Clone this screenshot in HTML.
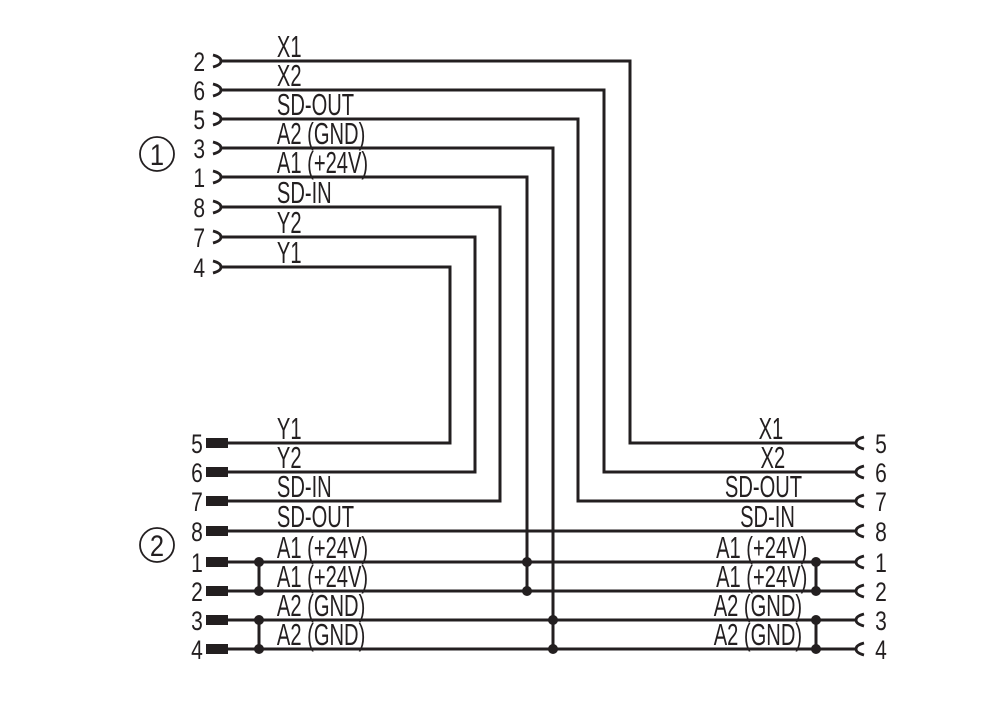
<!DOCTYPE html>
<html><head><meta charset="utf-8"><style>
html,body{margin:0;padding:0;background:#fff;}
svg{display:block;}
text{font-family:"Liberation Sans",sans-serif;fill:#231f20;}
</style></head><body>
<svg width="1000" height="701" viewBox="0 0 1000 701" xmlns="http://www.w3.org/2000/svg">
<g stroke="#231f20" stroke-width="3" fill="none">
<polyline points="220,61 630,61 630,443 857,443"/>
<polyline points="220,90 604,90 604,472 857,472"/>
<polyline points="220,119 578,119 578,501 857,501"/>
<polyline points="220,148 553,148 553,649"/>
<polyline points="220,177 527,177 527,591"/>
<polyline points="220,207 500,207 500,501 228,501"/>
<polyline points="220,237 475,237 475,472 228,472"/>
<polyline points="220,267 450,267 450,443 228,443"/>
<line x1="228" y1="531" x2="857" y2="531"/>
<line x1="228" y1="562" x2="857" y2="562"/>
<line x1="228" y1="591" x2="857" y2="591"/>
<line x1="228" y1="620" x2="857" y2="620"/>
<line x1="228" y1="649" x2="857" y2="649"/>
<line x1="259" y1="562" x2="259" y2="591"/>
<line x1="259" y1="620" x2="259" y2="649"/>
<line x1="816" y1="562" x2="816" y2="591"/>
<line x1="816" y1="620" x2="816" y2="649"/>
</g>
<g stroke="#231f20" stroke-width="2.8" fill="none">
<path d="M213,55 Q221,57 221,61 Q221,65 213,67"/>
<path d="M213,84 Q221,86 221,90 Q221,94 213,96"/>
<path d="M213,113 Q221,115 221,119 Q221,123 213,125"/>
<path d="M213,142 Q221,144 221,148 Q221,152 213,154"/>
<path d="M213,171 Q221,173 221,177 Q221,181 213,183"/>
<path d="M213,201 Q221,203 221,207 Q221,211 213,213"/>
<path d="M213,231 Q221,233 221,237 Q221,241 213,243"/>
<path d="M213,261 Q221,263 221,267 Q221,271 213,273"/>
<path d="M864,437 Q856,439 856,443 Q856,447 864,449"/>
<path d="M864,466 Q856,468 856,472 Q856,476 864,478"/>
<path d="M864,495 Q856,497 856,501 Q856,505 864,507"/>
<path d="M864,525 Q856,527 856,531 Q856,535 864,537"/>
<path d="M864,556 Q856,558 856,562 Q856,566 864,568"/>
<path d="M864,585 Q856,587 856,591 Q856,595 864,597"/>
<path d="M864,614 Q856,616 856,620 Q856,624 864,626"/>
<path d="M864,643 Q856,645 856,649 Q856,653 864,655"/>
<circle cx="157" cy="154" r="17" stroke-width="1.8"/>
<circle cx="157" cy="545" r="17" stroke-width="1.8"/>
</g>
<g fill="#231f20">
<rect x="206" y="438" width="22" height="10"/>
<rect x="206" y="467" width="22" height="10"/>
<rect x="206" y="496" width="22" height="10"/>
<rect x="206" y="526" width="22" height="10"/>
<rect x="206" y="557" width="22" height="10"/>
<rect x="206" y="586" width="22" height="10"/>
<rect x="206" y="615" width="22" height="10"/>
<rect x="206" y="644" width="22" height="10"/>
<circle cx="259" cy="562" r="5"/><circle cx="259" cy="591" r="5"/>
<circle cx="259" cy="620" r="5"/><circle cx="259" cy="649" r="5"/>
<circle cx="527" cy="562" r="5"/><circle cx="527" cy="591" r="5"/>
<circle cx="553" cy="620" r="5"/><circle cx="553" cy="649" r="5"/>
<circle cx="816" cy="562" r="5"/><circle cx="816" cy="591" r="5"/>
<circle cx="816" cy="620" r="5"/><circle cx="816" cy="649" r="5"/>
</g>
<g font-size="30" text-anchor="middle" transform="scale(0.85,1)">
<text x="184.7" y="165">1</text>
<text x="184.7" y="556">2</text>
</g>
<g font-size="27" text-anchor="end" transform="scale(0.78,1)">
<text x="263" y="71">2</text><text x="263" y="100">6</text><text x="263" y="129">5</text><text x="263" y="158">3</text>
<text x="263" y="187">1</text><text x="263" y="217">8</text><text x="263" y="247">7</text><text x="263" y="277">4</text>
<text x="260" y="453">5</text><text x="260" y="482">6</text><text x="260" y="511">7</text><text x="260" y="541">8</text>
<text x="260" y="572">1</text><text x="260" y="601">2</text><text x="260" y="630">3</text><text x="260" y="659">4</text>
<g text-anchor="start">
<text x="1122" y="453">5</text><text x="1122" y="482">6</text>
<text x="1122" y="511">7</text><text x="1122" y="541">8</text>
<text x="1122" y="572">1</text><text x="1122" y="601">2</text>
<text x="1122" y="630">3</text><text x="1122" y="659">4</text>
</g>
</g>
<g font-size="31" transform="scale(0.65,1)">
<text x="426" y="57">X1</text>
<text x="426" y="86">X2</text>
<text x="426" y="115">SD-OUT</text>
<text x="426" y="144">A2 (GND)</text>
<text x="426" y="173">A1 (+24V)</text>
<text x="426" y="203">SD-IN</text>
<text x="426" y="233">Y2</text>
<text x="426" y="263">Y1</text>
<text x="426" y="439">Y1</text>
<text x="426" y="468">Y2</text>
<text x="426" y="497">SD-IN</text>
<text x="426" y="527">SD-OUT</text>
<text x="426" y="558">A1 (+24V)</text>
<text x="426" y="587">A1 (+24V)</text>
<text x="426" y="616">A2 (GND)</text>
<text x="426" y="645">A2 (GND)</text>
</g>
<g font-size="31" text-anchor="end" transform="scale(0.65,1)">
<text x="1205" y="439">X1</text>
<text x="1208" y="468">X2</text>
<text x="1234" y="497">SD-OUT</text>
<text x="1223" y="527">SD-IN</text>
<text x="1242" y="558">A1 (+24V)</text>
<text x="1242" y="587">A1 (+24V)</text>
<text x="1234" y="616">A2 (GND)</text>
<text x="1234" y="645">A2 (GND)</text>
</g>
</svg>
</body></html>
